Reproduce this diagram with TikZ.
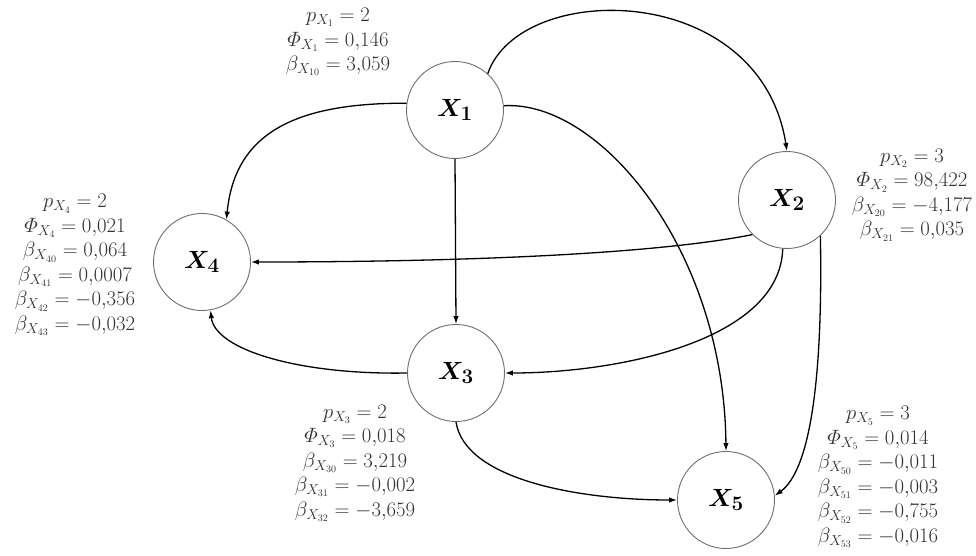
\documentclass[tikz,border=0pt]{standalone}
\usepackage{amsmath,bm}
\usetikzlibrary{arrows.meta}
\definecolor{circ}{RGB}{110,110,110}
\definecolor{labc}{RGB}{50,50,50}
\begin{document}
\begin{tikzpicture}[x=1pt,y=-1pt,
  var/.style={circle, draw=circ, line width=0.9pt, minimum size=97pt, inner sep=0pt, font=\fontsize{28}{32}\selectfont},
  lab/.style={align=center, text=labc, font=\fontsize{20.5}{24.5}\selectfont},
  edge/.style={line width=1.3pt, -{Latex[length=8pt,width=5.5pt]}}]
\useasboundingbox (0,0) rectangle (976,556);

\node[var] (x1) at (455,110) {$\bm{X_1}$};
\node[var] (x2) at (787,200) {$\bm{X_2}$};
\node[var] (x3) at (456,373) {$\bm{X_3}$};
\node[var] (x4) at (202,262) {$\bm{X_4}$};
\node[var] (x5) at (726,500) {$\bm{X_5}$};

\draw[edge] (x1.48) .. controls (520,-20) and (760,-20) .. (x2.north);
\draw[edge] (x1.172) .. controls (300,103) and (235,130) .. (x4.60);
\draw[edge] (x1.south) -- (x3.north);
\draw[edge] (x1.5) .. controls (600,100) and (724,250) .. (x5.north);
\draw[edge] (x2.225) .. controls (650,255) and (450,262) .. (x4.east);
\draw[edge] (x2.265) .. controls (780,340) and (620,373) .. (x3.east);
\draw[edge] (x2.-47) .. controls (823,380) and (810,470) .. (x5.5);
\draw[edge] (x3.180) .. controls (300,375) and (215,350) .. (x4.-80);
\draw[edge] (x3.south) .. controls (465,480) and (580,500) .. (x5.west);

\node[lab] (l1) at (338,42) {$p_{X_1} = 2$\\ $\varPhi_{X_1} = 0{,}146$\\ $\beta_{X_{10}} = 3{,}059$};
\node[lab] (l2) at (912,195) {$p_{X_2} = 3$\\ $\varPhi_{X_2} = 98{,}422$\\ $\beta_{X_{20}} = -4{,}177$\\ $\beta_{X_{21}} = 0{,}035$};
\node[lab] (l4) at (75,265) {$p_{X_4} = 2$\\ $\varPhi_{X_4} = 0{,}021$\\ $\beta_{X_{40}} = 0{,}064$\\ $\beta_{X_{41}} = 0{,}0007$\\ $\beta_{X_{42}} = -0{,}356$\\ $\beta_{X_{43}} = -0{,}032$};
\node[lab] (l3) at (355,463) {$p_{X_3} = 2$\\ $\varPhi_{X_3} = 0{,}018$\\ $\beta_{X_{30}} = 3{,}219$\\ $\beta_{X_{31}} = -0{,}002$\\ $\beta_{X_{32}} = -3{,}659$};
\node[lab] (l5) at (878,477) {$p_{X_5} = 3$\\ $\varPhi_{X_5} = 0{,}014$\\ $\beta_{X_{50}} = -0{,}011$\\ $\beta_{X_{51}} = -0{,}003$\\ $\beta_{X_{52}} = -0{,}755$\\ $\beta_{X_{53}} = -0{,}016$};
\end{tikzpicture}
\end{document}
